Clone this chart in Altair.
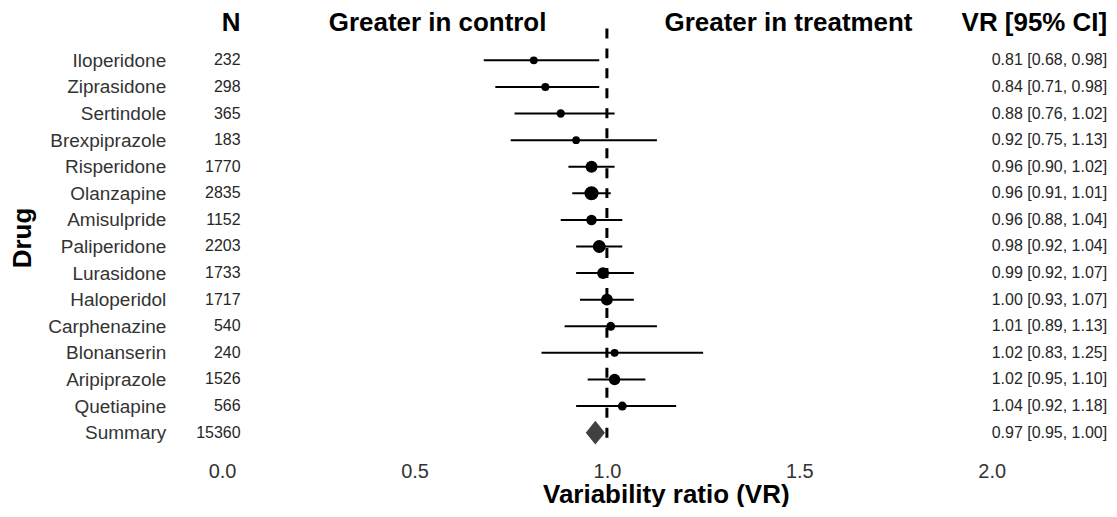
import altair as alt
import pandas as pd

# ---------------- data ----------------
drugs = ["Iloperidone", "Ziprasidone", "Sertindole", "Brexpiprazole", "Risperidone",
         "Olanzapine", "Amisulpride", "Paliperidone", "Lurasidone", "Haloperidol",
         "Carphenazine", "Blonanserin", "Aripiprazole", "Quetiapine"]
n_total = [232, 298, 365, 183, 1770, 2835, 1152, 2203, 1733, 1717, 540, 240, 1526, 566]
vr = [0.81, 0.84, 0.88, 0.92, 0.96, 0.96, 0.96, 0.98, 0.99, 1.00, 1.01, 1.02, 1.02, 1.04]
ci_low = [0.68, 0.71, 0.76, 0.75, 0.90, 0.91, 0.88, 0.92, 0.92, 0.93, 0.89, 0.83, 0.95, 0.92]
ci_high = [0.98, 0.98, 1.02, 1.13, 1.02, 1.01, 1.04, 1.04, 1.07, 1.07, 1.13, 1.25, 1.10, 1.18]

summary_label = "Summary"
summary_n = 15360
summary_vr = 0.97
summary_low = 0.95
summary_high = 1.00

x_ticks = [0.0, 0.5, 1.0, 1.5, 2.0]
headers = ["N", "Greater in control", "Greater in treatment", "VR [95% CI]"]

# ---------------- layout constants ----------------
FONT = "Liberation Sans"
PLOT_W, PLOT_H = 934, 419
X_DOMAIN = [-0.1206, 2.3022]
N_COL_X = 0.048
VR_COL_X = 2.30
CONTROL_X = 0.56
TREAT_X = 1.472

rows = drugs + [summary_label]
df = pd.DataFrame({
    "drug": rows,
    "n": n_total + [summary_n],
    "vr": vr + [summary_vr],
    "lo": ci_low + [summary_low],
    "hi": ci_high + [summary_high],
    "kind": ["study"] * len(drugs) + ["summary"],
})
df["label"] = [f"{v:.2f} [{l:.2f}, {h:.2f}]" for v, l, h in zip(df["vr"], df["lo"], df["hi"])]

x_scale = alt.Scale(domain=X_DOMAIN, nice=False, zero=False)
x_axis = alt.Axis(
    values=x_ticks, format=".1f", title="Variability ratio (VR)",
    labelFont=FONT, labelFontSize=20, labelColor="#333333", labelPadding=15,
    ticks=False, tickSize=0, domain=False, grid=False,
    titleFont=FONT, titleFontSize=26, titleFontWeight="bold", titleColor="black",
    titleX=491, titleY=56, titleAlign="center", titleBaseline="alphabetic",
)
y_enc = alt.Y(
    "drug:N", sort=rows,
    scale=alt.Scale(type="point", padding=0.864, align=0.695),
    axis=alt.Axis(
        title="Drug", labelFont=FONT, labelFontSize=19, labelColor="#333333",
        labelPadding=10, ticks=False, tickSize=0, domain=False, grid=False,
        titleFont=FONT, titleFontSize=26, titleFontWeight="bold", titleColor="black",
        titleAngle=270, titleX=-145, titleY=209.5, titleAlign="center",
        titleBaseline="alphabetic",
    ),
)

base = alt.Chart(df)
studies = base.transform_filter(alt.datum.kind == "study")
summ = base.transform_filter(alt.datum.kind == "summary")

ref_line = alt.Chart(df).mark_rule(color="black", strokeWidth=3, strokeDash=[10, 10]).encode(
    x=alt.X(datum=1.0, scale=x_scale, axis=x_axis)
).transform_filter(alt.datum.kind == "summary")

ci = studies.mark_rule(color="black", strokeWidth=2).encode(
    x=alt.X("lo:Q", scale=x_scale, axis=x_axis),
    x2="hi:Q",
    y=y_enc,
)

pts = studies.mark_circle(color="black", opacity=1).encode(
    x=alt.X("vr:Q", scale=x_scale, axis=x_axis),
    y=y_enc,
    size=alt.Size("n:Q", scale=alt.Scale(domain=[183, 2835], range=[60, 200]), legend=None),
)

diamond = summ.mark_point(
    shape="M-0.8,0L0,-1L0.8,0L0,1Z", filled=True, color="#404040", opacity=1, size=576
).encode(
    x=alt.X("vr:Q", scale=x_scale, axis=x_axis),
    y=y_enc,
)

n_text = base.mark_text(align="right", baseline="middle", font=FONT, fontSize=16, color="#262626").encode(
    x=alt.X(datum=N_COL_X, scale=x_scale, axis=x_axis),
    y=y_enc,
    text="n:Q",
)

vr_text = base.mark_text(align="right", baseline="middle", font=FONT, fontSize=16, color="#262626").encode(
    x=alt.X(datum=VR_COL_X, scale=x_scale, axis=x_axis),
    y=y_enc,
    text="label:N",
)

hdr_df = pd.DataFrame({
    "text": headers,
    "pos": [N_COL_X, CONTROL_X, TREAT_X, VR_COL_X],
})

def header(i, align):
    return alt.Chart(hdr_df.iloc[[i]]).mark_text(
        align=align, baseline="alphabetic", font=FONT, fontSize=26, fontWeight="bold", color="black"
    ).encode(
        x=alt.X("pos:Q", scale=x_scale, axis=x_axis),
        y=alt.value(3),
        text="text:N",
    )

hdrs = [header(0, "right"), header(1, "center"), header(2, "center"), header(3, "right")]

chart = alt.layer(ref_line, ci, pts, diamond, n_text, vr_text, *hdrs).properties(
    width=PLOT_W, height=PLOT_H,
    padding={"left": 168, "top": 20, "right": 1, "bottom": 60},
    autosize=alt.AutoSizeParams(type="none"),
    background="white",
).configure_view(strokeWidth=0, stroke="transparent")

chart.save("out.html", embed_options={"renderer": "svg", "actions": False})
